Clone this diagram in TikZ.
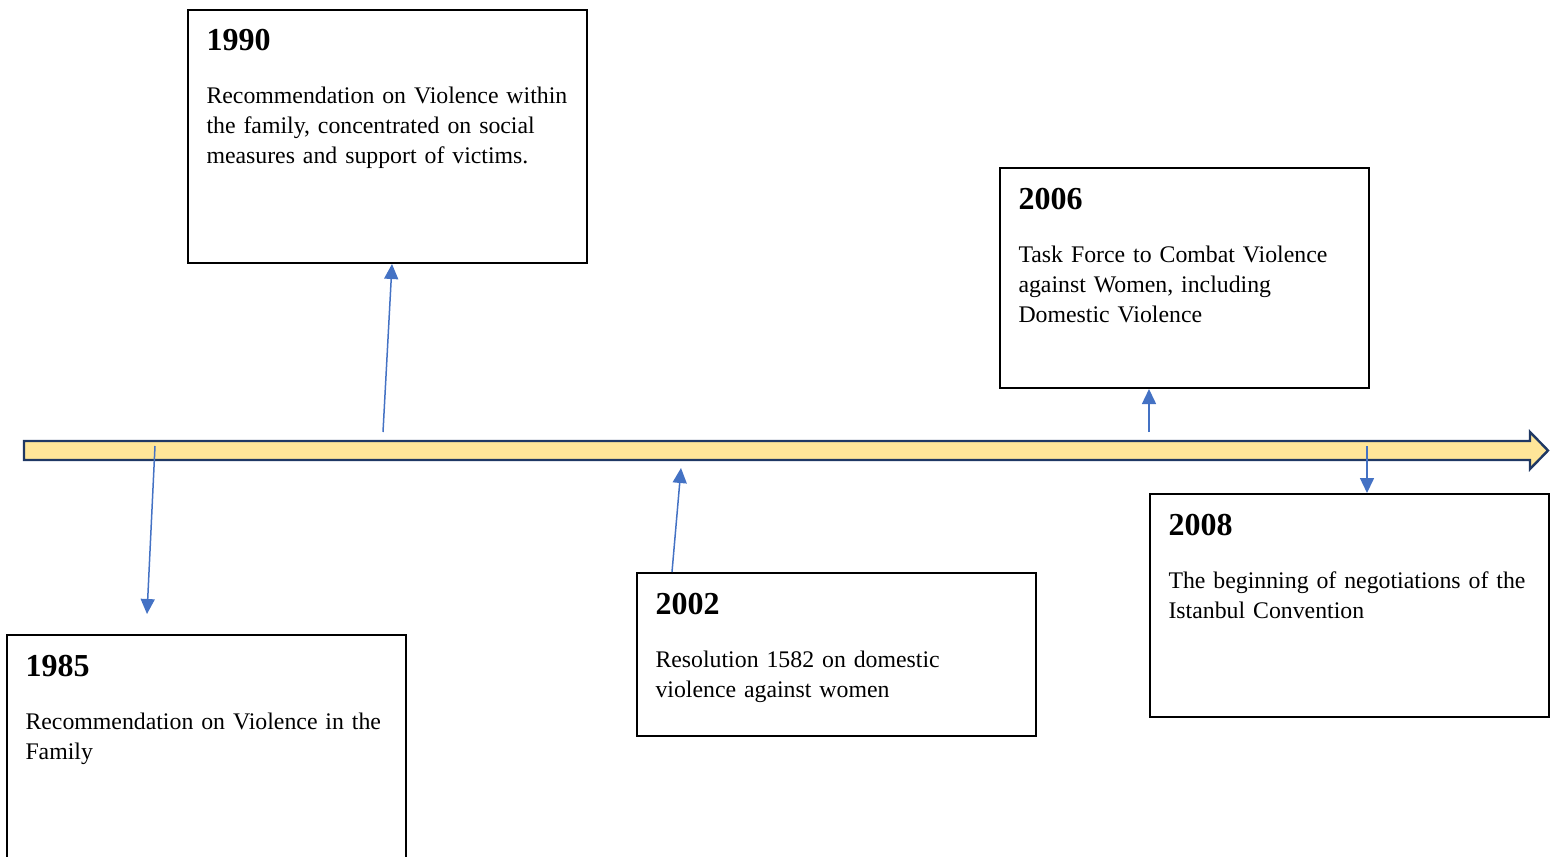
\documentclass[tikz,border=0pt]{standalone}
\usepackage{fontspec}
\setmainfont{Liberation Serif}[WordSpace=0.8]
\usetikzlibrary{arrows.meta,calc}
\definecolor{bandfill}{HTML}{FFE699}
\definecolor{bandline}{HTML}{1F3864}
\definecolor{linkblue}{HTML}{4472C4}
\tikzset{
	evbox/.style={draw, line width=1pt, anchor=north west, align=left,
		font=\fontsize{11.9}{15}\selectfont,
		inner xsep=9.25pt, inner ysep=8pt, text height=12.5pt},
	link/.style={linkblue, line width=.75pt, -{Triangle[width=7pt,length=7.5pt]}},
}
\newcommand{\evyear}[1]{{\fontsize{16}{19}\selectfont\bfseries #1}\par\vspace{11.5pt}}
\begin{document}
\begin{tikzpicture}[x=0.5pt, y=-0.5pt]
	\useasboundingbox (0,0) rectangle (1556,856);
	% timeline
	\draw [fill=bandfill, draw=bandline, line width=1.2pt, line join=miter]
		(24,441) -- (1530,441) -- (1530,432) -- (1548,450.5) -- (1530,469) -- (1530,460) -- (24,460) -- cycle;
	% boxes
	\node [evbox, text width=181pt, text depth=98pt] (b1990) at (187,9)
		{\evyear{1990}Recommendation on Violence within\\the family, concentrated on social\\measures and support of victims.};
	\node [evbox, text width=166pt, text depth=81.5pt] (b2006) at (999,167)
		{\evyear{2006}Task Force to Combat Violence\\against Women, including\\Domestic Violence};
	\node [evbox, text width=181pt, text depth=91.5pt] (b1985) at (6,634)
		{\evyear{1985}Recommendation on Violence in the\\Family};
	\node [evbox, text width=181pt, text depth=53pt] (b2002) at (636,572)
		{\evyear{2002}Resolution 1582 on domestic\\violence against women};
	\node [evbox, text width=181pt, text depth=83pt] (b2008) at (1149,493)
		{\evyear{2008}The beginning of negotiations of the\\Istanbul Convention};
	% links
	\coordinate (t1985) at (155,446);
	\coordinate (e1985) at (147,614);
	\coordinate (t1990) at (383,432);
	\coordinate (e2002) at (681,468);
	\coordinate (t2006) at (1149,432);
	\coordinate (t2008) at (1367,446);
	\draw [link] (t1985) -- (e1985);
	\draw [link] (t1990) -- ($(b1990.south west)+(205,0)$);
	\draw [link] ($(b2002.north west)+(36,0)$) -- (e2002);
	\draw [link] (t2006) -- ($(b2006.south west)+(150,0)$);
	\draw [link] (t2008) -- ($(b2008.north west)+(218,0)$);
\end{tikzpicture}
\end{document}
